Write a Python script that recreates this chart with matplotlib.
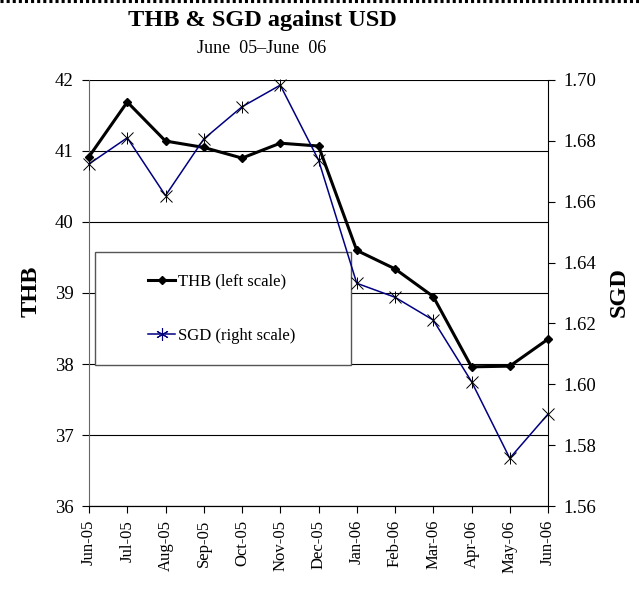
import matplotlib
matplotlib.use('Agg')
from matplotlib import pyplot as plt
from matplotlib.patches import Rectangle
from matplotlib.lines import Line2D

# monthly data, June 05 - June 06
months = ['Jun-05', 'Jul-05', 'Aug-05', 'Sep-05', 'Oct-05', 'Nov-05', 'Dec-05',
          'Jan-06', 'Feb-06', 'Mar-06', 'Apr-06', 'May-06', 'Jun-06']
thb = [40.92, 41.69, 41.14, 41.05, 40.90, 41.11, 41.07,
       39.60, 39.34, 38.95, 37.96, 37.97, 38.35]
sgd = [1.6724, 1.6810, 1.6620, 1.6806, 1.6912, 1.6983, 1.6737,
       1.6332, 1.6286, 1.6211, 1.6009, 1.5757, 1.5902]
thb_ticks = [36, 37, 38, 39, 40, 41, 42]
sgd_ticks = [1.56, 1.58, 1.60, 1.62, 1.64, 1.66, 1.68, 1.70]

plt.rcParams['font.family'] = ['Liberation Serif', 'DejaVu Serif']

fig = plt.figure(figsize=(6.39, 5.89), dpi=100)
ax = fig.add_axes([0.1393, 0.1409, 0.7183, 0.7233])
x = list(range(len(months)))

# left axis: THB
ax.set_xlim(0, len(months) - 1)
ax.set_ylim(36, 42)
ax.set_yticks(thb_ticks)
ax.set_xticks(x)
ax.set_xticklabels(months, rotation=90, fontsize=12)
ax.tick_params(axis='y', labelsize=13.5, length=5, width=0.8, direction='out', pad=6)
ax.tick_params(axis='x', length=5, width=0.8, direction='out', pad=5)
ax.grid(axis='y', color='black', linewidth=0.8)
ax.set_axisbelow(True)
ax.spines['top'].set_visible(False)
ax.spines['left'].set_color('#666666')
ax.spines['right'].set_visible(False)

# legend box sits under the lines
box = Rectangle((0.013, 0.331), 0.558, 0.265, transform=ax.transAxes,
                facecolor='white', edgecolor='#555555', linewidth=1.0, zorder=1.5)
ax.add_patch(box)

ax.plot(x, thb, color='black', linewidth=2.2, marker='D', markersize=4.5, zorder=3,
        clip_on=False)

# right axis: SGD
ax2 = ax.twinx()
ax2.set_ylim(1.56, 1.70)
ax2.set_yticks(sgd_ticks)
ax2.set_yticklabels(['%.2f' % v for v in sgd_ticks])
ax2.tick_params(axis='y', labelsize=13.5, length=5, width=0.8, direction='out', pad=6)
ax2.spines['top'].set_visible(False)
ax2.spines['left'].set_visible(False)
ax2.patch.set_visible(False)
ax2.plot(x, sgd, color='#000080', linewidth=1.1, zorder=3, clip_on=False)
ax2.plot(x, sgd, linestyle='none', marker='x', markersize=8, markeredgecolor='black',
         markeredgewidth=0.7, zorder=4, clip_on=False)
ax2.plot(x, sgd, linestyle='none', marker='|', markersize=9, markeredgecolor='black',
         markeredgewidth=0.7, zorder=4, clip_on=False)

# legend
thb_handle = Line2D([], [], color='black', linewidth=2.2, marker='D', markersize=4.5)
sgd_handle = Line2D([], [], color='#000080', linewidth=1.1, marker=(6, 2, 0),
                    markersize=9, markeredgecolor='#000080', markeredgewidth=0.8)
ax2.legend([thb_handle, sgd_handle], ['THB (left scale)', 'SGD (right scale)'],
           loc='center', bbox_to_anchor=(0.29, 0.4635), bbox_transform=ax.transAxes,
           frameon=False, fontsize=12, labelspacing=2.3, handlelength=1.6,
           handletextpad=0.2)

# titles and axis labels
fig.text(0.41, 0.965, 'THB & SGD against USD', ha='center', va='center',
         fontsize=17.5, fontweight='bold')
fig.text(0.41, 0.918, 'June  05\u2013June  06', ha='center', va='center', fontsize=13)
fig.text(0.048, 0.505, 'THB', rotation=90, ha='center', va='center',
         fontsize=17.5, fontweight='bold')
fig.text(0.9695, 0.504, 'SGD', rotation=90, ha='center', va='center',
         fontsize=17.5, fontweight='bold')

# dotted border along the top edge
fig.add_artist(Line2D([0, 1], [0.9975, 0.9975], transform=fig.transFigure,
                      color='black', linewidth=2.2, linestyle=(0, (1, 1))))

plt.savefig('out.png', dpi=100)
